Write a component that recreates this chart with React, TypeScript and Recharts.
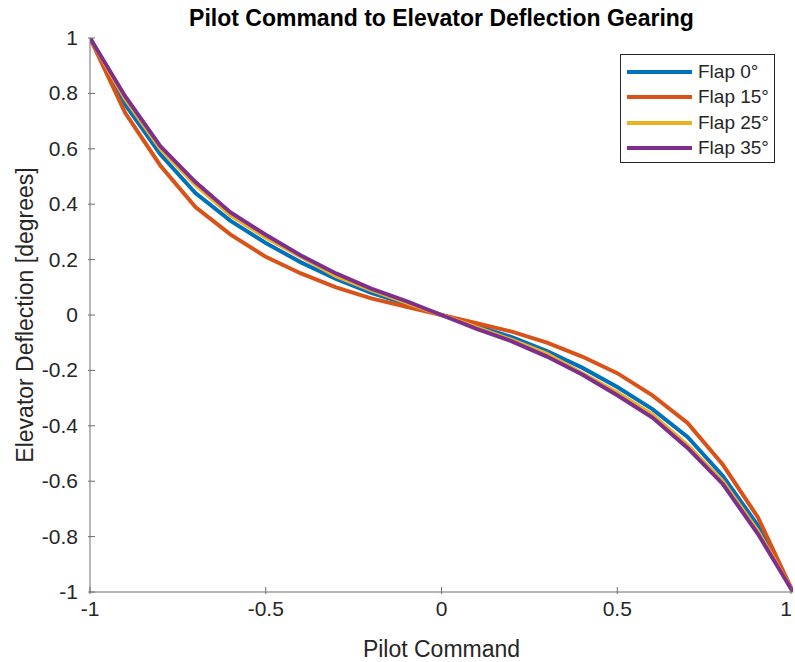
import { LineChart, Line, XAxis, YAxis, Label } from 'recharts'

const COMMAND = [-1, -0.9, -0.8, -0.7, -0.6, -0.5, -0.4, -0.3, -0.2, -0.1, 0, 0.1, 0.2, 0.3, 0.4, 0.5, 0.6, 0.7, 0.8, 0.9, 1]
const FLAP_0 = [1, 0.76, 0.58, 0.44, 0.34, 0.26, 0.19, 0.13, 0.08, 0.04, 0, -0.04, -0.08, -0.13, -0.19, -0.26, -0.34, -0.44, -0.58, -0.76, -1]
const FLAP_15 = [1, 0.73, 0.54, 0.39, 0.29, 0.21, 0.15, 0.1, 0.06, 0.03, 0, -0.03, -0.06, -0.1, -0.15, -0.21, -0.29, -0.39, -0.54, -0.73, -1]
const FLAP_25 = [1, 0.78, 0.6, 0.47, 0.36, 0.28, 0.21, 0.14, 0.09, 0.045, 0, -0.045, -0.09, -0.14, -0.21, -0.28, -0.36, -0.47, -0.6, -0.78, -1]
const FLAP_35 = [1, 0.79, 0.61, 0.48, 0.37, 0.29, 0.215, 0.15, 0.095, 0.05, 0, -0.05, -0.095, -0.15, -0.215, -0.29, -0.37, -0.48, -0.61, -0.79, -1]

const X_TICKS = [-1, -0.5, 0, 0.5, 1]
const Y_TICKS = [-1, -0.8, -0.6, -0.4, -0.2, 0, 0.2, 0.4, 0.6, 0.8, 1]

const SERIES = [
  { key: 'f0', name: 'Flap 0°', color: '#0072BD', values: FLAP_0 },
  { key: 'f15', name: 'Flap 15°', color: '#D95319', values: FLAP_15 },
  { key: 'f25', name: 'Flap 25°', color: '#EDB120', values: FLAP_25 },
  { key: 'f35', name: 'Flap 35°', color: '#7E2F8E', values: FLAP_35 },
]

const data = COMMAND.map((x, i) => {
  const row: Record<string, number> = { x }
  SERIES.forEach((s) => { row[s.key] = s.values[i] })
  return row
})

const FONT = '"Liberation Sans", Arial, Helvetica, sans-serif'
const AXIS = '#6e6e6e'
const TEXT = '#262626'

function XTick({ x, y, payload }: any) {
  // last label sits on the right edge, nudge it in so it isn't clipped
  const tx = payload.value === 1 ? x - 5 : x
  return (
    <g>
      <line x1={x} x2={x} y1={y} y2={y - 7} stroke={AXIS} />
      <text x={tx} y={y + 22} textAnchor="middle" fontSize={21} fill={TEXT} fontFamily={FONT}>
        {String(payload.value)}
      </text>
    </g>
  )
}

function YTick({ x, y, payload }: any) {
  return (
    <g>
      <line x1={x} x2={x + 7} y1={y} y2={y} stroke={AXIS} />
      <text x={x - 10} y={y + 7} textAnchor="end" fontSize={21} fill={TEXT} fontFamily={FONT}>
        {String(payload.value)}
      </text>
    </g>
  )
}

export default function App() {
  return (
    <div style={{ position: 'absolute', left: 0, top: 0, width: 795, height: 662, background: '#fff' }}>
      <div
        style={{
          position: 'absolute', left: 90, width: 703, top: 5, textAlign: 'center',
          fontFamily: FONT, fontWeight: 'bold', fontSize: 23, color: '#000', lineHeight: '26px',
        }}
      >
        Pilot Command to Elevator Deflection Gearing
      </div>
      <LineChart width={795} height={662} data={data} margin={{ top: 38, right: 2, bottom: 30, left: 30 }}>
        <XAxis
          dataKey="x"
          type="number"
          domain={[-1, 1]}
          ticks={X_TICKS}
          tick={<XTick />}
          tickLine={false}
          tickSize={0}
          height={40}
          stroke={AXIS}
          allowDataOverflow
        >
          <Label value="Pilot Command" position="insideBottom" offset={-25} fontSize={23} fill={TEXT} fontFamily={FONT} />
        </XAxis>
        <YAxis
          type="number"
          domain={[-1, 1]}
          ticks={Y_TICKS}
          tick={<YTick />}
          tickLine={false}
          tickSize={0}
          width={60}
          stroke={AXIS}
          allowDataOverflow
        >
          <Label
            value="Elevator Deflection [degrees]"
            angle={-90}
            position="insideLeft"
            offset={-5}
            style={{ textAnchor: 'middle' }}
            fontSize={23}
            fill={TEXT}
            fontFamily={FONT}
          />
        </YAxis>
        {SERIES.map((s) => (
          <Line
            key={s.key}
            dataKey={s.key}
            name={s.name}
            stroke={s.color}
            strokeWidth={4}
            dot={false}
            type="linear"
            isAnimationActive={false}
          />
        ))}
      </LineChart>
      <div
        style={{
          position: 'absolute', left: 620, top: 54, width: 153, height: 107,
          border: '1px solid #262626', background: '#fff', fontFamily: FONT,
        }}
      >
        {SERIES.map((s, i) => (
          <div
            key={s.key}
            style={{ position: 'absolute', left: 6, top: 4 + i * 25.5, height: 25, display: 'flex', alignItems: 'center' }}
          >
            <span style={{ width: 65, height: 4, background: s.color, display: 'inline-block' }} />
            <span style={{ marginLeft: 6, fontSize: 19, color: TEXT, whiteSpace: 'nowrap' }}>{s.name}</span>
          </div>
        ))}
      </div>
    </div>
  )
}
